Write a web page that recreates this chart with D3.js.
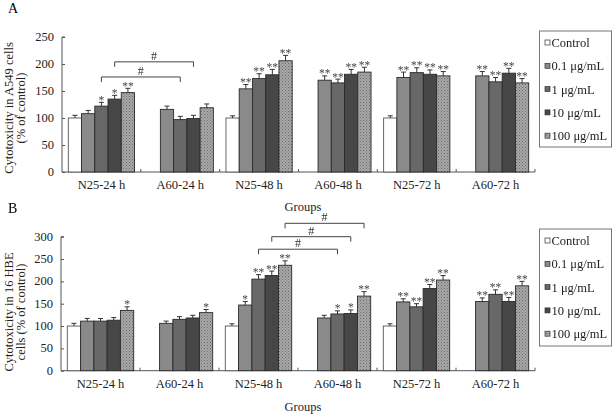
<!DOCTYPE html>
<html><head><meta charset="utf-8">
<script src="https://cdn.jsdelivr.net/npm/d3@7"></script>
<style>body{margin:0;background:#fff}svg{display:block;font-family:"Liberation Serif","Times New Roman",serif}.mk{opacity:0.99;will-change:transform}</style>
</head><body>
<svg id="c" width="614" height="416"></svg>
<script>
const groups = ["N25-24 h","A60-24 h","N25-48 h","A60-48 h","N25-72 h","A60-72 h"];
const series = ["Control","0.1 μg/mL","1 μg/mL","10 μg/mL","100 μg/mL"];

const valuesA = [[100,108,122,135,147],[null,116,97,99,119],[100,154,173,180,206],[null,170,165,181,185],[100,175,184,181,178],[null,178,167,183,165]];
const errorsA = [[5,6,7,7,8],[0,6,6,6,7],[4,8,9,10,10],[0,8,7,9,9],[4,10,9,8,8],[0,8,8,9,8]];
const marksA = [["","","*","*","**"],["","","","",""],["","**","**","**","**"],["","**","**","**","**"],["","**","**","**","**"],["","**","**","**","**"]];
const ticksA = [0,50,100,150,200,250];
const bracketsA = [{g1:0,s1:3,g2:1,s2:3,v:204},{g1:0,s1:2,g2:1,s2:2,v:176}];

const valuesB = [[100,111,111,113,135],[null,106,115,118,130],[100,147,205,213,236],[null,118,127,128,167],[100,154,143,184,203],[null,155,171,155,190]];
const errorsB = [[6,6,6,6,8],[0,5,6,6,7],[5,8,10,10,10],[0,6,7,8,10],[5,7,7,9,10],[0,8,10,9,10]];
const marksB = [["","","","","*"],["","","","","*"],["","*","**","**","**"],["","","*","*","**"],["","**","**","**","**"],["","**","**","**","**"]];
const ticksB = [0,50,100,150,200,250,300];
const bracketsB = [{g1:2,s1:4,g2:3,s2:4,v:330},{g1:2,s1:3,g2:3,s2:3,v:300},{g1:2,s1:2,g2:3,s2:2,v:272}];

const svg = d3.select("#c");
const defs = svg.append("defs");
const pat = defs.append("pattern").attr("id","stip").attr("width",3).attr("height",3).attr("patternUnits","userSpaceOnUse");
pat.append("rect").attr("width",3).attr("height",3).attr("fill","#a8a8a8");
pat.append("rect").attr("x",0).attr("y",0).attr("width",1).attr("height",1).attr("fill","#6a6a6a");
pat.append("rect").attr("x",1.5).attr("y",1.5).attr("width",1).attr("height",1).attr("fill","#7a7a7a");
const fills = ["#ffffff","#8a8a8a","#686868","#474747","url(#stip)"];

function panel(cfg){
  const g = svg.append("g");
  const x = d3.scaleBand().domain(groups).range([cfg.x0, cfg.x1]).padding(0);
  const xs = d3.scaleBand().domain(series).range([6.3, x.bandwidth()-6.3]).padding(0);
  const y = d3.scaleLinear().domain([0, cfg.ymax]).range([cfg.yb, cfg.yt]);

  g.append("text").attr("x",8).attr("y",cfg.letterY).attr("font-size",14).text(cfg.letter);

  const ya = g.append("g").attr("transform",`translate(${cfg.x0},0)`)
    .call(d3.axisRight(y).tickValues(cfg.ticks).tickSize(3).tickFormat(""));
  ya.select(".domain").attr("stroke","#555").attr("d",`M0,${cfg.yb}V${cfg.yt}M0,${cfg.yt}h3`);
  ya.selectAll(".tick line").attr("stroke","#555");
  g.selectAll(".ylab").data(cfg.ticks).join("text")
    .attr("x",cfg.x0-8).attr("y",d=>y(d)+4).attr("text-anchor","end").attr("font-size",12.5).attr("fill","#222").text(d=>d);

  const xa = g.append("g").attr("transform",`translate(0,${cfg.yb})`);
  xa.append("line").attr("x1",cfg.x0).attr("x2",cfg.x1).attr("stroke","#555");
  const tickPos = groups.map(d=>x(d)).concat([cfg.x1]);
  xa.selectAll(".xt").data(tickPos.slice(1)).join("line")
    .attr("x1",d=>d).attr("x2",d=>d).attr("y1",0).attr("y2",-3).attr("stroke","#555");
  g.selectAll(".xlab").data(groups).join("text")
    .attr("x",d=>x(d)+x.bandwidth()/2).attr("y",cfg.yb+17).attr("text-anchor","middle").attr("font-size",12.5).attr("fill","#222").text(d=>d);
  g.append("text").attr("x",303).attr("y",cfg.groupsY).attr("text-anchor","middle").attr("font-size",12.5).attr("fill","#222").text("Groups");

  const tc = cfg.titleY;
  cfg.title.forEach((t,i)=>{
    g.append("text").attr("transform",`translate(${13+i*12},${tc}) rotate(-90)`).attr("text-anchor","middle").attr("font-size",12.5).attr("fill","#222").text(t);
  });

  const rows = [];
  cfg.values.forEach((vals,gi)=>vals.forEach((v,si)=>{ if(v!=null) rows.push({gi,si,v,e:cfg.errors[gi][si],m:cfg.marks[gi][si]}); }));
  const bx = r=>x(groups[r.gi])+xs(series[r.si]);
  g.selectAll(".bar").data(rows).join("rect")
    .attr("x",bx).attr("y",r=>y(r.v)).attr("width",xs.bandwidth()).attr("height",r=>y(0)-y(r.v))
    .attr("fill",r=>fills[r.si]).attr("stroke",r=>r.si===0?"#555":"#2a2a2a").attr("stroke-width",0.9);
  g.selectAll(".err").data(rows).join("path")
    .attr("d",r=>{const cx=bx(r)+xs.bandwidth()/2, t=y(r.v+r.e); return `M${cx},${y(r.v)}V${t}M${cx-2.5},${t}H${cx+2.5}`;})
    .attr("stroke","#333").attr("stroke-width",1).attr("fill","none");
  g.selectAll(".mk").data(rows.filter(r=>r.m)).join("text").attr("class","mk")
    .attr("x",r=>bx(r)+xs.bandwidth()/2).attr("y",r=>y(r.v+r.e)+1.5).attr("text-anchor","middle")
    .attr("font-size",11.5).attr("fill","#444").text(r=>r.m);

  cfg.brackets.forEach(b=>{
    const xa1 = x(groups[b.g1])+xs(series[b.s1])+xs.bandwidth()/2;
    const xa2 = x(groups[b.g2])+xs(series[b.s2])+xs.bandwidth()/2;
    const yy = y(b.v);
    g.append("path").attr("d",`M${xa1},${yy+5}V${yy}H${xa2}V${yy+5}`).attr("stroke","#444").attr("fill","none").attr("stroke-width",1);
    g.append("text").attr("x",(xa1+xa2)/2).attr("y",yy-2).attr("text-anchor","middle").attr("font-size",12).attr("fill","#333").text("#");
  });

  const lg = g.append("g");
  lg.append("rect").attr("x",539.5).attr("y",cfg.legY).attr("width",72).attr("height",cfg.legH).attr("fill","#fff").attr("stroke","#777");
  series.forEach((s,i)=>{
    const yy = cfg.legY+12+i*23.3;
    lg.append("rect").attr("x",545).attr("y",yy-3).attr("width",5).attr("height",5).attr("fill",fills[i]).attr("stroke","#333").attr("stroke-width",0.7);
    lg.append("text").attr("x",551.5).attr("y",yy+4).attr("font-size",12.5).attr("fill","#222").text(s);
  });
}

panel({letter:"A",letterY:13,x0:62,x1:535,yb:172,yt:37,ymax:250,ticks:ticksA,values:valuesA,errors:errorsA,marks:marksA,brackets:bracketsA,
  groupsY:211,title:["Cytotoxicity in A549 cells","(% of control)"],titleY:108,legY:31,legH:116});
panel({letter:"B",letterY:213,x0:61,x1:535,yb:370.7,yt:236.7,ymax:300,ticks:ticksB,values:valuesB,errors:errorsB,marks:marksB,brackets:bracketsB,
  groupsY:411,title:["Cytotoxicity in 16 HBE","cells (% of control)"],titleY:312,legY:229,legH:117});
</script>
</body></html>
